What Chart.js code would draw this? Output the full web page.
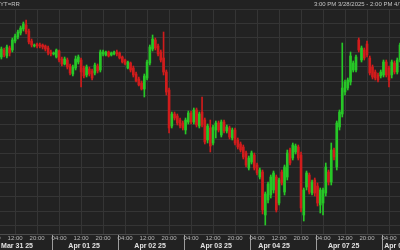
<!DOCTYPE html>
<html>
<head>
<meta charset="utf-8">
<script src="https://cdn.jsdelivr.net/npm/chart.js@4.4.1/dist/chart.umd.min.js"></script>
<style>
  html, body { margin: 0; padding: 0; background: #222222; }
  #wrap { position: relative; width: 400px; height: 250px; overflow: hidden; background: #222222; }
  #chart { position: absolute; left: 0; top: 0; }
  .hdr { position: absolute; top: 0; height: 9px; line-height: 8px; font-family: "Liberation Sans", Arial, sans-serif;
         font-size: 6px; color: #c4c4c4; white-space: nowrap; }
  #ric { left: 0; }
  #range { left: 314px; }
</style>
</head>
<body>
<div id="wrap">
  <canvas id="chart" width="400" height="250"></canvas>
  <div class="hdr" id="ric">YT=RR</div>
  <div class="hdr" id="range">3:00 PM 3/28/2025 - 2:00 PM 4/7/2025</div>
</div>
<script>
/* ---------- hourly candles ---------- */
const openP = [
  96.183,96.190,96.184,96.192,96.190,96.199,96.203,96.207,96.211,96.215,
  96.209,96.199,96.194,96.196,96.195,96.195,96.194,96.192,96.188,96.186,
  96.183,96.189,96.181,96.176,96.180,96.174,96.166,96.172,96.178,96.180,
  96.172,96.165,96.171,96.169,96.167,96.174,96.170,96.186,96.185,96.188,
  96.185,96.186,96.188,96.187,96.183,96.180,96.172,96.177,96.172,96.166,
  96.161,96.157,96.151,96.162,96.177,96.191,96.200,96.194,96.188,96.182,
  96.168,96.150,96.114,96.126,96.124,96.120,96.117,96.110,96.118,96.127,
  96.118,96.130,96.114,96.128,96.120,96.100,96.112,96.097,96.110,96.117,
  96.105,96.118,96.109,96.112,96.102,96.110,96.100,96.096,96.093,96.087,
  96.072,96.078,96.085,96.075,96.063,96.068,96.025,96.040,96.045,96.050,
  96.063,96.037,96.068,96.048,96.063,96.090,96.082,96.088,96.093,96.085,
  96.025,96.053,96.065,96.047,96.060,96.054,96.035,96.037,96.047,96.068,
  96.058,96.090,96.073,96.113,96.126,96.148,96.152,96.158,96.170,96.170,
  96.200,96.180,96.190,96.196,96.182,96.173,96.168,96.165,96.164,96.165,
  96.178,96.172,96.165,96.177,96.168,96.180
];
const highP = [
  96.193,96.192,96.195,96.194,96.202,96.206,96.210,96.214,96.218,96.220,
  96.211,96.201,96.196,96.197,96.197,96.196,96.195,96.194,96.190,96.188,
  96.191,96.190,96.183,96.183,96.182,96.176,96.175,96.184,96.185,96.182,
  96.174,96.175,96.173,96.171,96.177,96.176,96.190,96.190,96.189,96.189,
  96.188,96.189,96.190,96.188,96.184,96.181,96.179,96.178,96.174,96.168,
  96.163,96.159,96.166,96.180,96.195,96.205,96.202,96.196,96.190,96.208,
  96.170,96.152,96.128,96.128,96.126,96.122,96.119,96.122,96.129,96.129,
  96.132,96.132,96.128,96.143,96.122,96.116,96.120,96.115,96.119,96.119,
  96.120,96.120,96.115,96.114,96.112,96.112,96.102,96.098,96.095,96.089,
  96.084,96.089,96.087,96.077,96.072,96.070,96.048,96.058,96.065,96.069,
  96.065,96.062,96.070,96.075,96.090,96.092,96.097,96.096,96.095,96.088,
  96.052,96.069,96.067,96.060,96.062,96.057,96.052,96.052,96.077,96.070,
  96.097,96.092,96.119,96.130,96.197,96.160,96.162,96.188,96.179,96.185,
  96.202,96.194,96.192,96.199,96.184,96.175,96.170,96.167,96.170,96.180,
  96.180,96.174,96.180,96.179,96.182,96.197
];
const lowP = [
  96.181,96.183,96.182,96.184,96.188,96.197,96.201,96.205,96.209,96.206,
  96.196,96.193,96.193,96.192,96.192,96.191,96.189,96.185,96.184,96.185,
  96.182,96.178,96.174,96.175,96.171,96.165,96.164,96.170,96.176,96.153,
  96.162,96.163,96.164,96.160,96.165,96.167,96.168,96.184,96.184,96.183,
  96.184,96.185,96.184,96.181,96.177,96.175,96.171,96.168,96.163,96.158,
  96.154,96.150,96.143,96.160,96.175,96.189,96.190,96.184,96.178,96.165,
  96.145,96.107,96.112,96.120,96.115,96.112,96.110,96.106,96.116,96.116,
  96.116,96.113,96.112,96.113,96.096,96.097,96.088,96.095,96.102,96.108,
  96.103,96.107,96.107,96.101,96.100,96.095,96.091,96.088,96.081,96.073,
  96.070,96.076,96.070,96.065,96.061,96.026,96.015,96.037,96.042,96.047,
  96.028,96.035,96.055,96.045,96.060,96.075,96.080,96.086,96.080,96.028,
  96.019,96.050,96.046,96.045,96.044,96.034,96.027,96.025,96.044,96.055,
  96.055,96.080,96.070,96.110,96.123,96.145,96.150,96.155,96.168,96.168,
  96.188,96.178,96.180,96.183,96.165,96.161,96.160,96.158,96.162,96.163,
  96.163,96.153,96.162,96.166,96.166,96.178
];
const closeP = [
  96.191,96.185,96.193,96.187,96.200,96.204,96.208,96.212,96.216,96.208,
  96.198,96.195,96.195,96.194,96.194,96.193,96.191,96.187,96.186,96.187,
  96.190,96.180,96.176,96.181,96.173,96.167,96.173,96.181,96.183,96.168,
  96.164,96.173,96.166,96.162,96.175,96.169,96.188,96.188,96.188,96.184,
  96.187,96.188,96.186,96.182,96.178,96.176,96.178,96.170,96.165,96.159,
  96.155,96.151,96.164,96.178,96.193,96.201,96.192,96.186,96.180,96.168,
  96.148,96.112,96.126,96.122,96.117,96.114,96.112,96.120,96.127,96.118,
  96.130,96.115,96.126,96.115,96.098,96.114,96.094,96.113,96.117,96.110,
  96.118,96.109,96.113,96.103,96.110,96.097,96.093,96.090,96.083,96.075,
  96.082,96.087,96.072,96.067,96.070,96.030,96.046,96.056,96.063,96.067,
  96.030,96.060,96.057,96.073,96.087,96.077,96.095,96.094,96.082,96.032,
  96.050,96.067,96.048,96.058,96.047,96.037,96.050,96.050,96.073,96.058,
  96.090,96.083,96.117,96.128,96.152,96.158,96.160,96.184,96.177,96.183,
  96.190,96.192,96.182,96.185,96.167,96.163,96.162,96.160,96.168,96.178,
  96.165,96.160,96.178,96.168,96.180,96.195
];

// x axis is the candle index (one candle per hour)
const timeTickPos = [-3, 5, 13, 21, 29, 37, 45, 53, 61, 69, 77, 85, 93, 101, 109, 117, 125, 133, 141];
const timeTickLabels = ['04:00', '12:00', '20:00', '04:00', '12:00', '20:00', '04:00', '12:00', '20:00', '04:00',
                        '12:00', '20:00', '04:00', '12:00', '20:00', '04:00', '12:00', '20:00', '04:00'];
const daySepPos = [18.5, 42.5, 66.5, 90.5, 114.5, 138.5];
const dateTickPos = [5.7, 30.1, 54.1, 78.1, 99.2, 124.5, 145];
const dateLabels = ['Mar 31 25', 'Apr 01 25', 'Apr 02 25', 'Apr 03 25', 'Apr 04 25', 'Apr 07 25', 'Apr 08 25'];

const X_MIN = -0.5, X_MAX = 145;
const Y_MIN = 96.006, Y_MAX = 96.231, Y_GRID = 0.01445;

const UP = '#27c727';
const DOWN = '#d11c1c';
const GRID = '#353535';
const CLEAR = 'rgba(0,0,0,0)';

Chart.defaults.font.family = "'Liberation Sans', Arial, sans-serif";

const candleColors = openP.map((o, i) => closeP[i] >= o ? UP : DOWN);
const isSep = (ctx) => ctx.tick && daySepPos.includes(ctx.tick.value);

// keep the plot flush with both canvas edges: labels may run off the side
function flatBottomAxis(axis) {
    axis.height = 8;
    axis.paddingLeft = 0;
    axis.paddingRight = 0;
}

new Chart(document.getElementById('chart'), {
    type: 'bar',
    data: {
        datasets: [{
            label: 'body',
            data: openP.map((o, i) => ({ x: i, y: [o, closeP[i]] })),
            backgroundColor: candleColors,
            borderWidth: 0,
            barThickness: 2,
            minBarLength: 1,
            grouped: false,
            order: 0
        }, {
            label: 'wick',
            data: lowP.map((l, i) => ({ x: i, y: [l, highP[i]] })),
            backgroundColor: candleColors,
            borderWidth: 0,
            barThickness: 1,
            grouped: false,
            order: 1
        }]
    },
    options: {
        responsive: false,
        animation: false,
        devicePixelRatio: 1,
        layout: { padding: { top: 9, left: 0, right: 0, bottom: 0 }, autoPadding: false },
        plugins: {
            legend: { display: false },
            tooltip: { enabled: false }
        },
        scales: {
            x: {
                type: 'linear',
                position: 'bottom',
                min: X_MIN,
                max: X_MAX,
                offset: false,
                bounds: 'data',
                weight: 0,
                grid: {
                    offset: false,
                    color: (ctx) => isSep(ctx) ? CLEAR : GRID,
                    tickColor: (ctx) => isSep(ctx) ? '#9c9c9c' : CLEAR,
                    drawTicks: true,
                    tickLength: 16
                },
                border: { display: true, color: '#4c4c4c' },
                ticks: {
                    autoSkip: false,
                    maxRotation: 0,
                    minRotation: 0,
                    padding: -15.5,
                    color: '#b8b8b8',
                    font: { size: 6 },
                    callback: (value) => {
                        const j = timeTickPos.indexOf(value);
                        return j >= 0 ? timeTickLabels[j] : '';
                    }
                },
                afterBuildTicks: (axis) => {
                    axis.ticks = timeTickPos.concat(daySepPos).map(v => ({ value: v }));
                },
                afterFit: flatBottomAxis
            },
            xd: {
                type: 'linear',
                axis: 'x',
                position: 'bottom',
                min: X_MIN,
                max: X_MAX,
                offset: false,
                bounds: 'data',
                weight: 1,
                grid: { display: false, drawTicks: false },
                border: { display: false },
                ticks: {
                    autoSkip: false,
                    maxRotation: 0,
                    minRotation: 0,
                    padding: 0,
                    color: '#e2e2e2',
                    font: { size: 7, weight: 'bold' },
                    callback: (value, index) => dateLabels[index]
                },
                afterBuildTicks: (axis) => {
                    axis.ticks = dateTickPos.map(v => ({ value: v }));
                },
                afterFit: flatBottomAxis
            },
            y: {
                type: 'linear',
                min: Y_MIN,
                max: Y_MAX,
                bounds: 'data',
                grid: { color: GRID, drawTicks: false },
                border: { display: false },
                ticks: { display: false },
                afterBuildTicks: (axis) => {
                    const lines = [];
                    for (let v = Y_MAX; v > Y_MIN; v -= Y_GRID) lines.push({ value: v });
                    axis.ticks = lines;
                },
                afterFit: (axis) => {
                    axis.width = 0;
                    axis.paddingTop = 0;
                    axis.paddingBottom = 0;
                }
            }
        }
    }
});
</script>
</body>
</html>
